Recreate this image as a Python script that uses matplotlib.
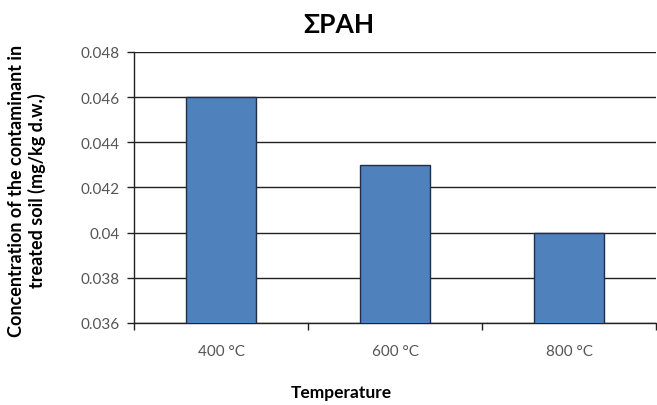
import numpy as np
import matplotlib.pyplot as plt

plt.rcParams['font.family'] = ['Lato', 'DejaVu Sans']

# treatment temperatures and residual total PAH
temperatures = ['400 °C', '600 °C', '800 °C']
pah_conc = [0.046, 0.043, 0.040]  # mg/kg d.w.
y_ticks = [0.036, 0.038, 0.04, 0.042, 0.044, 0.046, 0.048]

fig = plt.figure(figsize=(6.57, 4.06), dpi=100)
ax = fig.add_axes([134/657, 1 - 324/406, (656 - 134)/657, (324 - 53)/406])

x = np.arange(len(temperatures))
ax.bar(x, pah_conc, width=0.4, color='#4F81BD', edgecolor='#1F2F4A',
       linewidth=1.0, zorder=3)

ax.set_xlim(-0.5, len(temperatures) - 0.5)
ax.set_ylim(y_ticks[0], y_ticks[-1])
ax.set_yticks(y_ticks)
ax.set_yticklabels([f'{v:g}' for v in y_ticks], fontsize=11, color='#555555')
ax.yaxis.grid(True, color='#222222', linewidth=1.0, zorder=0)

# category labels centred under bars, ticks at category boundaries
ax.set_xticks(x)
ax.set_xticklabels(temperatures, fontsize=11, color='#555555')
ax.tick_params(axis='x', length=0, pad=15)
ax.set_xticks(np.arange(-0.5, len(temperatures)), minor=True)
ax.tick_params(axis='x', which='minor', length=5, width=1, color='#222222')
ax.tick_params(axis='y', length=5, width=1, color='#222222', pad=5)

for side in ['top', 'right']:
    ax.spines[side].set_visible(False)
for side in ['left', 'bottom']:
    ax.spines[side].set_color('#222222')
    ax.spines[side].set_linewidth(1.0)

fig.text(0.515, 1 - 25/406, 'ΣPAH', ha='center', va='center',
         fontsize=19, fontweight='bold')
fig.text(0.52, 1 - 393/406, 'Temperature', ha='center', va='center',
         fontsize=12.5, fontweight='bold')
fig.text(27/657, 1 - 191/406,
         'Concentration of the contaminant in\ntreated soil (mg/kg d.w.)',
         ha='center', va='center', rotation=90, fontsize=13,
         fontweight='bold', linespacing=1.2)

plt.savefig('out.png', dpi=100)
